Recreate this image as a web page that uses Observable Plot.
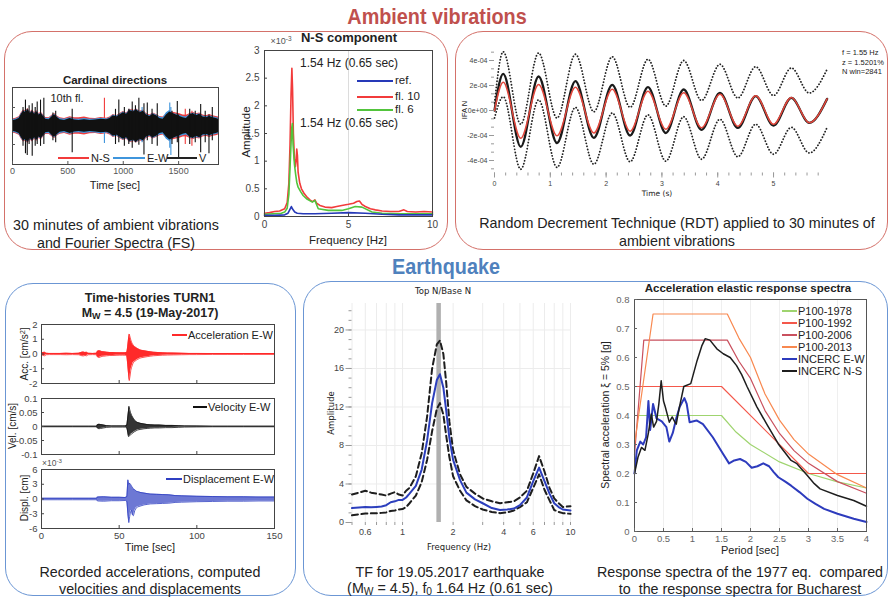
<!DOCTYPE html>
<html><head><meta charset="utf-8">
<script src="https://cdn.jsdelivr.net/npm/d3@7"></script>
<script src="https://cdn.jsdelivr.net/npm/@observablehq/plot@0.6"></script>
<style>
body{margin:0;background:#fff;}
#root{position:relative;width:892px;height:599px;overflow:hidden;font-family:"Liberation Sans",Arial,sans-serif;color:#222;}
.box{position:absolute;box-sizing:border-box;border-radius:28px;}
.t{position:absolute;white-space:nowrap;transform:translate(-50%,-50%);line-height:1;}
.t sub{font-size:0.72em;vertical-align:-0.2em;line-height:0;}
.t sup{font-size:0.72em;vertical-align:0.45em;line-height:0;}
</style></head><body><div id="root"></div><script>
// ---------- Cardinal directions (ambient record, 10th floor) ----------
const cdTime = [0,30,60,80,100,120,140,160,180,200,
  220,240,260,280,300,330,360,380,400,430,
  470,520,560,600,650,700,750,800,850,880,
  910,940,970,1000,1030,1060,1090,1120,1150,1180,
  1210,1240,1270,1300,1330,1360,1390,1420,1450,1480,
  1510,1540,1570,1600,1630,1660,1690,1720,1750,1780,
  1810,1840,1860];
const cdAmpV = [0.14,0.16,0.2,0.32,0.4,0.36,0.44,0.34,0.4,0.32,
  0.38,0.3,0.34,0.26,0.18,0.17,0.26,0.3,0.24,0.17,
  0.15,0.2,0.16,0.15,0.17,0.15,0.16,0.18,0.17,0.2,
  0.28,0.24,0.3,0.36,0.32,0.42,0.38,0.44,0.36,0.4,
  0.3,0.26,0.32,0.28,0.2,0.18,0.3,0.38,0.34,0.3,
  0.26,0.22,0.2,0.3,0.34,0.28,0.32,0.24,0.22,0.26,
  0.22,0.2,0.18];
const cdAmpNS = [0.19,0.21,0.25,0.36,0.43,0.4,0.47,0.38,0.43,0.36,
  0.41,0.34,0.37,0.3,0.23,0.22,0.3,0.34,0.28,0.22,
  0.2,0.25,0.22,0.22,0.24,0.21,0.2,0.23,0.21,0.24,
  0.31,0.28,0.34,0.39,0.35,0.45,0.41,0.46,0.4,0.43,
  0.34,0.3,0.35,0.31,0.26,0.24,0.33,0.41,0.37,0.35,
  0.33,0.3,0.29,0.33,0.37,0.33,0.35,0.3,0.28,0.31,
  0.28,0.26,0.24];
const cdAmpEW = [0.17,0.19,0.23,0.34,0.41,0.38,0.45,0.36,0.41,0.34,
  0.39,0.32,0.35,0.28,0.21,0.2,0.28,0.32,0.26,0.2,
  0.18,0.22,0.19,0.18,0.2,0.18,0.19,0.21,0.19,0.22,
  0.3,0.27,0.32,0.38,0.34,0.44,0.4,0.45,0.38,0.42,
  0.32,0.28,0.34,0.3,0.24,0.22,0.36,0.42,0.34,0.32,
  0.29,0.26,0.24,0.31,0.35,0.31,0.33,0.27,0.25,0.28,
  0.25,0.23,0.21];
const spikeTimeV = [95,117,133,150,178,205,223,253,283,365,390,539,930,960,1010,1050,1081,1110,1141,1187,1217,1260,1307,1440,1488,1500,1600,1650,1699,1740,1774,1804];
const spikeHiV = [0.5,0.7,0.45,0.55,0.6,0.5,0.65,0.7,0.75,0.35,0.4,0.45,0.45,0.7,0.5,0.45,0.65,0.55,0.75,0.6,0.62,0.45,0.6,0.4,0.66,0.3,0.45,0.4,0.58,0.4,0.3,0.5];
const spikeLoV = [-0.55,-0.75,-0.8,-0.5,-0.82,-0.55,-0.5,-0.55,-0.5,-0.4,-0.45,-0.72,-0.5,-0.45,-0.55,-0.5,-0.6,-0.45,-0.52,-0.78,-0.4,-0.5,-0.55,-0.5,-0.45,-0.88,-0.5,-0.45,-0.72,-0.45,-0.75,-0.4];
const spikeTimeNS = [830,1080,1560,1620];
const spikeHiNS = [0.75,0.45,0.45,0.4];
const spikeLoNS = [-0.2,-0.45,-0.5,-0.55];
const spikeTimeEW = [830,1420,1430,1170];
const spikeHiEW = [0.2,0.62,0.5,0.5];
const spikeLoEW = [-0.47,-0.6,-0.8,-0.45];
const cdTicks = [0,500,1000,1500];

// ---------- N-S component Fourier spectra (x1e-3) ----------
const fl10Freq = [0,0.3,0.6,0.9,1.2,1.35,1.45,1.52,1.58,1.63,1.67,1.72,1.78,1.84,1.88,1.92,1.96,2.0,2.1,2.2,2.35,2.5,2.7,2.85,3.0,3.1,3.3,3.6,4.0,4.3,4.6,5.0,5.3,5.5,5.65,5.8,6.0,6.3,6.6,7.0,7.5,8.0,8.3,8.5,9.0,9.5,10];
const fl10Amp = [0.06,0.07,0.09,0.1,0.14,0.25,0.6,1.3,2.2,2.68,2.3,1.5,1.05,0.9,1.0,1.22,1.1,0.8,0.6,0.5,0.42,0.36,0.3,0.27,0.3,0.24,0.2,0.17,0.16,0.18,0.2,0.22,0.24,0.27,0.28,0.22,0.18,0.14,0.12,0.1,0.09,0.09,0.12,0.09,0.08,0.09,0.08];
const fl6Freq = [0,0.5,1.0,1.2,1.35,1.45,1.55,1.62,1.66,1.7,1.78,1.85,1.92,2.0,2.15,2.3,2.5,2.85,3.0,3.2,3.8,4.6,5.0,5.4,5.8,6.4,7.0,8.0,9.0,10];
const fl6Amp = [0.04,0.05,0.06,0.08,0.15,0.4,1.1,1.6,1.68,1.3,0.95,0.77,0.62,0.53,0.45,0.38,0.32,0.26,0.29,0.14,0.11,0.11,0.14,0.18,0.17,0.08,0.06,0.05,0.05,0.05];
const refFreq = [0,0.6,1.2,1.4,1.5,1.6,1.68,1.8,1.95,2.3,3.0,4.0,5.0,6.0,7.0,8.0,9.0,10];
const refAmp = [0.02,0.02,0.03,0.06,0.12,0.18,0.13,0.08,0.06,0.05,0.05,0.06,0.07,0.06,0.04,0.03,0.03,0.03];

// ---------- Random decrement signature (x1e-4) ----------
const rdtTime = [0,0.156,0.47,0.79,1.12,1.45,1.78,2.11,2.43,2.75,3.07,3.39,3.71,4.04,4.36,4.68,5.0,5.32,5.64,5.96];
const rdtMean = [0,2.93,-2.9,2.72,-2.6,2.35,-2.19,2.05,-2.0,1.87,-1.8,1.68,-1.55,1.41,-1.39,1.15,-1.2,1.01,-0.99,0.93];
const rdtFit = [0,2.27,-2.22,2.08,-2.02,1.87,-1.8,1.71,-1.65,1.55,-1.5,1.42,-1.38,1.3,-1.25,1.18,-1.1,1.05,-0.98,0.93];
const rdtUpper = [0.6,4.7,-1.1,4.6,-0.6,4.5,-0.1,4.3,0.25,4.1,0.35,4.0,0.8,3.7,1.0,3.5,1.2,3.4,1.4,3.3];
const rdtLower = [-0.6,1.1,-4.7,0.85,-4.55,0.25,-4.3,-0.2,-4.1,-0.35,-4.05,-0.5,-3.9,-0.7,-3.7,-1.1,-3.5,-1.35,-3.4,-1.35];

// ---------- Time histories TURN1 (envelopes) ----------
const accTime = [0,1,2,3,5,8,12,16,20,24,26,27,28,29,30,33,35.5,36,37,38,39,40,42,44,46,48,50,52,54,55,55.5,56,56.5,57,57.5,58,58.5,59,60,61,62,63,64,66,68,70,72,75,78,81,85,90,95,100,110,120,130,140,150];
const accHi = [0.04,0.1,0.12,0.05,0.04,0.04,0.04,0.05,0.04,0.05,0.12,0.13,0.1,0.12,0.05,0.04,0.05,0.18,0.22,0.2,0.16,0.15,0.12,0.1,0.1,0.09,0.08,0.08,0.08,0.12,0.5,1.0,1.35,1.15,0.95,0.8,0.7,0.6,0.5,0.42,0.36,0.3,0.26,0.22,0.18,0.15,0.12,0.1,0.08,0.07,0.06,0.05,0.04,0.04,0.03,0.03,0.03,0.03,0.03];
const accLo = [-0.04,-0.1,-0.12,-0.05,-0.04,-0.04,-0.04,-0.05,-0.04,-0.05,-0.12,-0.13,-0.1,-0.12,-0.05,-0.04,-0.05,-0.2,-0.24,-0.2,-0.16,-0.15,-0.12,-0.1,-0.1,-0.09,-0.08,-0.08,-0.08,-0.15,-0.7,-1.3,-1.8,-1.5,-1.1,-0.9,-0.75,-0.6,-0.5,-0.42,-0.36,-0.3,-0.26,-0.22,-0.18,-0.15,-0.12,-0.1,-0.08,-0.07,-0.06,-0.05,-0.04,-0.04,-0.03,-0.03,-0.03,-0.03,-0.03];
const velTime = [0,10,20,30,35.5,36,37,38,39,40,42,45,48,52,54,55,55.5,56,56.3,56.8,57.3,58,59,60,61,62,64,66,68,70,73,76,80,84,88,92,100,110,120,130,140,150];
const velHi = [0.001,0.001,0.001,0.001,0.001,0.006,0.008,0.007,0.006,0.005,0.003,0.002,0.002,0.002,0.002,0.005,0.03,0.055,0.072,0.06,0.05,0.04,0.03,0.022,0.017,0.014,0.011,0.009,0.007,0.006,0.005,0.005,0.004,0.004,0.003,0.002,0.0015,0.001,0.001,0.001,0.001,0.001];
const velLo = [-0.001,-0.001,-0.001,-0.001,-0.001,-0.006,-0.008,-0.007,-0.006,-0.005,-0.003,-0.002,-0.002,-0.002,-0.002,-0.005,-0.02,-0.036,-0.034,-0.033,-0.03,-0.026,-0.022,-0.018,-0.015,-0.012,-0.01,-0.008,-0.007,-0.006,-0.005,-0.005,-0.004,-0.004,-0.003,-0.002,-0.0015,-0.001,-0.001,-0.001,-0.001,-0.001];
const dispTime = [0,10,20,30,35.5,36,40,45,50,54,55,55.6,56.2,56.8,57.3,58,58.5,59.2,60,61,62,64,66,68,70,74,78,82,86,90,95,100,110,120,130,140,150];
const dispHi = [0.15,0.15,0.15,0.15,0.15,0.4,0.45,0.35,0.35,0.3,0.5,3.9,3.0,3.2,3.0,2.6,2.4,2.0,1.9,1.6,1.5,1.3,1.2,1.1,1.0,0.95,0.9,0.85,0.7,0.65,0.6,0.55,0.5,0.45,0.45,0.4,0.4];
const dispLo = [-0.15,-0.15,-0.15,-0.15,-0.15,-0.4,-0.45,-0.35,-0.35,-0.3,-0.5,-3.0,-4.8,-3.5,-2.6,-2.3,-3.2,-3.4,-2.4,-1.8,-1.6,-1.4,-1.2,-1.1,-1.0,-0.95,-0.9,-0.85,-0.7,-0.65,-0.6,-0.55,-0.5,-0.45,-0.45,-0.4,-0.4];

// ---------- Transfer function Top N / Base N ----------
const tfFreq = [0.5,0.55,0.6,0.65,0.7,0.75,0.8,0.85,0.9,0.95,1.0,1.05,1.1,1.2,1.3,1.4,1.5,1.6,1.67,1.75,1.82,1.9,2.0,2.2,2.4,2.7,3.0,3.4,3.8,4.2,4.6,5.0,5.5,6.0,6.5,7.0,7.5,8.0,8.5,9.0,10];
const tfMean = [1.5,1.55,1.6,1.58,1.62,1.66,1.8,2.1,2.2,2.35,2.35,2.6,3.0,3.8,5.5,8.5,12.4,14.8,15.4,14.0,11.6,8.8,6.5,4.4,3.1,2.4,2.0,1.5,1.3,1.35,1.45,1.8,2.6,4.3,5.7,4.3,3.0,2.0,1.6,1.35,1.25];
const tfUpper = [2.9,3.1,3.3,3.1,3.0,2.9,2.8,3.0,3.15,2.9,2.8,3.3,3.6,4.8,7.2,11,16,18.5,18.9,17.5,14.5,10.5,7.5,5.0,3.7,3.0,2.5,2.2,2.0,2.1,2.2,2.6,3.3,5.1,6.9,5.3,3.6,2.5,2.0,1.6,1.7];
const tfLower = [0.75,0.85,0.93,0.95,0.97,1.0,1.05,1.2,1.25,1.35,1.4,1.6,2.0,2.8,4.2,6.5,9.5,11.8,12.4,11.2,9.0,6.8,4.8,3.3,2.3,1.7,1.35,1.1,0.97,1.05,1.25,1.6,2.1,3.6,5.0,3.4,2.3,1.3,1.1,0.97,0.9];
const tfPeakFreq = [1.64];

// ---------- Acceleration elastic response spectra ----------
const p1978T = [0,1.5,1.75,2.0,2.5,3.0,3.5,4.0];
const p1978SA = [0.4,0.4,0.343,0.3,0.24,0.2,0.171,0.15];
const p1992T = [0,1.5,3.0,4.0];
const p1992SA = [0.5,0.5,0.2,0.2];
const p2006T = [0,0.16,1.6,1.8,2.0,2.25,2.5,2.75,3.0,3.5,4.0];
const p2006SA = [0.264,0.66,0.66,0.587,0.528,0.417,0.338,0.279,0.235,0.172,0.132];
const p2013T = [0,0.32,1.6,1.8,2.0,2.25,2.5,2.75,3.0,3.5,4.0];
const p2013SA = [0.3,0.75,0.75,0.667,0.6,0.474,0.384,0.317,0.267,0.196,0.15];
const ewT = [0,0.04,0.1,0.15,0.2,0.24,0.27,0.32,0.38,0.47,0.55,0.6,0.66,0.72,0.78,0.86,0.9,0.95,1.07,1.18,1.35,1.52,1.63,1.72,1.82,1.92,2.02,2.12,2.22,2.32,2.4,2.48,2.6,2.7,2.85,2.98,3.12,3.27,3.5,3.78,4.0];
const ewSA = [0.2,0.28,0.31,0.3,0.325,0.45,0.35,0.44,0.39,0.38,0.36,0.31,0.34,0.39,0.43,0.46,0.44,0.377,0.383,0.37,0.325,0.27,0.235,0.245,0.25,0.24,0.22,0.225,0.235,0.225,0.205,0.187,0.172,0.158,0.135,0.113,0.095,0.078,0.061,0.044,0.033];
const nsT = [0,0.06,0.12,0.18,0.24,0.29,0.33,0.38,0.42,0.46,0.5,0.53,0.6,0.65,0.69,0.72,0.76,0.85,0.97,1.08,1.16,1.22,1.3,1.42,1.53,1.65,1.76,1.85,1.94,2.11,2.28,2.48,2.7,2.8,2.98,3.1,3.2,3.5,3.78,4.0];
const nsSA = [0.2,0.256,0.29,0.28,0.34,0.405,0.36,0.38,0.44,0.52,0.45,0.43,0.377,0.395,0.38,0.37,0.415,0.5,0.51,0.59,0.64,0.665,0.66,0.63,0.613,0.6,0.572,0.54,0.5,0.43,0.37,0.302,0.245,0.234,0.193,0.165,0.147,0.124,0.107,0.087];

// ================= rendering =================
const root = document.getElementById("root");
const FONT = '"Liberation Sans", Arial, Helvetica, sans-serif';
const SMALLFONT = '"DejaVu Sans", Verdana, sans-serif';
const C = {red:"#c0504d", blue:"#4f81bd", ns:"#f23b3b", ew:"#3f95dc", v:"#111",
  acc:"#ff2a2a", disp:"#2f3fc2", tfBlue:"#2c3fbd", p78:"#9fd46f", p92:"#f4584b", p06:"#c9505e", p13:"#f8884f", ewRS:"#2d3bbd"};

function txt(html, x, y, o = {}) {
  const d = document.createElement("div");
  d.className = "t";
  d.innerHTML = html;
  d.style.left = x + "px"; d.style.top = y + "px";
  d.style.fontSize = (o.size || 11) + "px";
  d.style.fontFamily = o.font || FONT;
  if (o.bold) d.style.fontWeight = "bold";
  if (o.color) d.style.color = o.color;
  if (o.pre) d.style.whiteSpace = "pre";
  if (o.anchor === "start") d.style.transform = "translate(0,-50%)";
  if (o.rotate) d.style.transform = "translate(-50%,-50%) rotate(-90deg)";
  if (o.sx) d.style.transform = `translate(-50%,-50%) scaleX(${o.sx})`;
  root.appendChild(d);
  return d;
}
function seg(x1, x2, y, color, w = 1.3) {
  const d = document.createElement("div");
  Object.assign(d.style, {position:"absolute", left:x1+"px", top:(y - w/2)+"px", width:(x2-x1)+"px", height:w+"px", background:color});
  root.appendChild(d);
}
function box(l, t, w, h, color) {
  const d = document.createElement("div");
  d.className = "box";
  Object.assign(d.style, {left:l+"px", top:t+"px", width:w+"px", height:h+"px", border:"1.6px solid "+color});
  root.appendChild(d);
}
function put(svg, l, t) {
  svg.style.position = "absolute"; svg.style.left = l + "px"; svg.style.top = t + "px";
  root.appendChild(svg);
}
const st = (size = 9, font = FONT, color = "#333") => ({fontFamily: font, fontSize: size + "px", color, background: "transparent", overflow: "visible"});
const noText = () => "";
const num = d => String(d);

// boxes and section titles
box(4, 31, 444, 219, "#d4716a");
box(455, 31, 433, 219, "#d4716a");
box(5, 283, 291, 313, "#6b96d4");
box(303, 281, 585, 315, "#6b96d4");
txt("Ambient vibrations", 437, 17, {size: 22, bold: true, sx: 0.9, color: C.red});
txt("Earthquake", 446, 267, {size: 22, bold: true, sx: 0.9, color: C.blue});

// ---- Cardinal directions ----
const cd = cdTime.map((t, i) => ({t, v: cdAmpV[i], ns: cdAmpNS[i], ew: cdAmpEW[i]}));
const spk = (T, H, L) => T.map((t, i) => ({t, hi: H[i], lo: L[i]}));
put(Plot.plot({
  width: 222, height: 114, marginLeft: 12, marginRight: 4, marginTop: 7, marginBottom: 30,
  x: {domain: [0, 1860], label: null}, y: {domain: [-1.04, 1.04], label: null},
  style: st(9, FONT, "#555"),
  marks: [
    Plot.areaY(cd, {x: "t", y1: d => -d.ns, y2: "ns", fill: C.ns}),
    Plot.ruleX(spk(spikeTimeNS, spikeHiNS, spikeLoNS), {x: "t", y1: "lo", y2: "hi", stroke: C.ns, strokeWidth: 1.1}),
    Plot.areaY(cd, {x: "t", y1: d => -d.ew, y2: "ew", fill: C.ew}),
    Plot.ruleX(spk(spikeTimeEW, spikeHiEW, spikeLoEW), {x: "t", y1: "lo", y2: "hi", stroke: C.ew, strokeWidth: 1.1}),
    Plot.areaY(cd, {x: "t", y1: d => -d.v, y2: "v", fill: C.v}),
    Plot.ruleX(spk(spikeTimeV, spikeHiV, spikeLoV), {x: "t", y1: "lo", y2: "hi", stroke: C.v, strokeWidth: 1.1}),
    Plot.frame({stroke: "#444"}),
    Plot.axisX({ticks: cdTicks, tickSize: -3, tickFormat: noText, label: null}),
    Plot.axisX({ticks: cdTicks, tickSize: 0, tickPadding: 3, tickFormat: num, label: null}),
    Plot.axisY({ticks: [-0.5, 0.5], tickSize: -3, tickFormat: noText, label: null})
  ]
}), 0, 80);
txt("Cardinal directions", 115, 81, {size: 11.5, bold: true});
txt("10th fl.", 67, 98, {size: 11});
txt("Time [sec]", 115, 185, {size: 11});
seg(58, 89, 158, C.ns, 1.2); txt("N-S", 91, 158, {size: 11, anchor: "start"});
seg(113, 145, 158, C.ew, 1.2); txt("E-W", 147, 158, {size: 11, anchor: "start"});
seg(167, 197, 158, "#222", 1.2); txt("V", 199, 158, {size: 11, anchor: "start"});
txt("30 minutes of ambient vibrations", 116, 225, {size: 14.3});
txt("and Fourier Spectra (FS)", 116, 243, {size: 14.3});

// ---- N-S component spectra ----
const mk = (F, A) => F.map((f, i) => ({f, a: A[i]}));
put(Plot.plot({
  width: 200, height: 210, marginLeft: 24, marginRight: 8, marginTop: 20, marginBottom: 24,
  x: {domain: [0, 10], label: null}, y: {domain: [0, 3], label: null},
  style: st(10, FONT, "#444"),
  marks: [
    Plot.ruleX([5], {stroke: "#dcdcdc"}),
    Plot.line(mk(fl10Freq, fl10Amp), {x: "f", y: "a", stroke: C.ns, strokeWidth: 1.6}),
    Plot.line(mk(fl6Freq, fl6Amp), {x: "f", y: "a", stroke: "#52c43c", strokeWidth: 1.6}),
    Plot.line(mk(refFreq, refAmp), {x: "f", y: "a", stroke: "#2639b8", strokeWidth: 1.6}),
    Plot.frame({stroke: "#444"}),
    Plot.axisX({ticks: [0, 5, 10], tickSize: -3, tickFormat: noText, label: null}),
    Plot.axisX({ticks: [0, 5, 10], tickSize: 0, tickPadding: 4, tickFormat: num, label: null}),
    Plot.axisY({ticks: [0, 0.5, 1, 1.5, 2, 2.5, 3], tickSize: -3, tickFormat: noText, label: null}),
    Plot.axisY({ticks: [0, 0.5, 1, 1.5, 2, 2.5, 3], tickSize: 0, tickPadding: 5, tickFormat: num, label: null})
  ]
}), 240, 30);
txt("N-S component", 349, 37, {size: 13, bold: true});
txt("×10<sup>-3</sup>", 281, 41, {size: 9, color: "#555"});
txt("Amplitude", 247, 132, {size: 11.5, rotate: true});
txt("Frequency [Hz]", 348, 241, {size: 11.5});
txt("1.54 Hz (0.65 sec)", 300, 63, {size: 12, anchor: "start"});
txt("1.54 Hz (0.65 sec)", 300, 123, {size: 12, anchor: "start"});
seg(357, 393, 81, "#2639b8", 1.6); txt("ref.", 395, 81, {size: 11.5, anchor: "start"});
seg(357, 393, 97, C.ns, 1.6); txt("fl. 10", 395, 97, {size: 11.5, anchor: "start"});
seg(357, 393, 110, "#52c43c", 1.6); txt("fl. 6", 395, 110, {size: 11.5, anchor: "start"});

// ---- RDT ----
const rdt = rdtTime.map((t, i) => ({t, mean: rdtMean[i], fit: rdtFit[i], up: rdtUpper[i], lo: rdtLower[i]}));
const e4 = d => d === 0 ? "0e+00" : (d < 0 ? "-" : "") + Math.abs(d) + "e-04";
put(Plot.plot({
  width: 420, height: 165, marginLeft: 34, marginRight: 40, marginTop: 9.5, marginBottom: 30.5,
  x: {domain: [0, 6.2], label: null}, y: {domain: [-5, 5], label: null},
  style: st(7, FONT, "#444"),
  marks: [
    Plot.line(rdt, {x: "t", y: "up", curve: "monotone-x", stroke: "#222", strokeWidth: 1.8, strokeDasharray: "0.1,3", strokeLinecap: "round"}),
    Plot.line(rdt, {x: "t", y: "lo", curve: "monotone-x", stroke: "#222", strokeWidth: 1.8, strokeDasharray: "0.1,3", strokeLinecap: "round"}),
    Plot.line(rdt, {x: "t", y: "mean", curve: "monotone-x", stroke: "#1a1a1a", strokeWidth: 2.3}),
    Plot.line(rdt, {x: "t", y: "fit", curve: "monotone-x", stroke: "#e2473c", strokeWidth: 1.5}),
    Plot.axisX({ticks: d3.range(0, 5.85, 0.2), tickSize: 3, tickFormat: noText, label: null, stroke: "#999"}),
    Plot.axisX({ticks: [0, 1, 2, 3, 4, 5], tickSize: 5, tickPadding: 3, tickFormat: num, label: null, stroke: "#999"}),
    Plot.axisY({ticks: d3.range(-4.667, 4.7, 0.6667), tickSize: 3, tickFormat: noText, label: null, stroke: "#999"}),
    Plot.axisY({ticks: [-4, -2, 0, 2, 4], tickSize: 5, tickPadding: 2, tickFormat: e4, label: null, stroke: "#999"})
  ]
}), 460, 38);
txt("IFA N", 465, 110, {size: 7.5, rotate: true});
txt("Time (s)", 657, 194, {size: 7.5, font: SMALLFONT});
txt("f = 1.55 Hz", 842, 53, {size: 7.5, anchor: "start"});
txt("z = 1.5201%", 842, 63, {size: 7.5, anchor: "start"});
txt("N win=2841", 842, 72, {size: 7.5, anchor: "start"});
txt("Random Decrement Technique (RDT) applied to 30 minutes of", 677, 223, {size: 14.3});
txt("ambient vibrations", 677, 241, {size: 14.3});

// ---- Time histories ----
function th(T, H, L, o) {
  const data = T.map((t, i) => ({t, hi: H[i], lo: L[i]}));
  return Plot.plot({
    width: 290, height: o.h, marginLeft: 41, marginRight: 16, marginTop: 6, marginBottom: o.mb,
    x: {domain: [0, 150], label: null}, y: {domain: o.dom, label: null},
    style: st(9.5, FONT, "#444"),
    marks: [
      Plot.areaY(data, {x: "t", y1: "lo", y2: "hi", fill: o.color, fillOpacity: o.op || 1}),
      Plot.line(data, {x: "t", y: "hi", stroke: o.color, strokeWidth: 0.8}),
      Plot.line(data, {x: "t", y: "lo", stroke: o.color, strokeWidth: 0.8}),
      Plot.frame({stroke: "#444"}),
      Plot.axisX({ticks: [0, 50, 100, 150], tickSize: -3, tickFormat: noText, label: null}),
      o.xlab ? Plot.axisX({ticks: [0, 50, 100, 150], tickSize: 0, tickPadding: 4, tickFormat: num, label: null}) : null,
      Plot.axisY({ticks: o.ticks, tickSize: -3, tickFormat: noText, label: null}),
      Plot.axisY({ticks: o.ticks, tickSize: 0, tickPadding: 4, tickFormat: num, label: null})
    ]
  });
}
put(th(accTime, accHi, accLo, {h: 71, mb: 6, dom: [-2, 2], ticks: [-2, -1, 0, 1, 2], color: C.acc}), 0, 318);
put(th(velTime, velHi, velLo, {h: 68, mb: 6, dom: [-0.1, 0.1], ticks: [-0.1, -0.05, 0, 0.05, 0.1], color: "#111", op: 0.85}), 0, 392);
put(th(dispTime, dispHi, dispLo, {h: 95, mb: 30, dom: [-6, 6], ticks: [-6, -3, 0, 3, 6], color: C.disp, xlab: true, op: 0.7}), 0, 463);
txt("Time-histories TURN1", 150, 298, {size: 12.5, bold: true});
txt("M<sub>W</sub> = 4.5 (19-May-2017)", 150, 313, {size: 12.5, bold: true});
txt("Acc. [cm/s<sup>2</sup>]", 25, 354, {size: 10, rotate: true});
txt("Vel. [cm/s]", 13, 426, {size: 10, rotate: true});
txt("Displ. [cm]", 25, 498, {size: 10, rotate: true});
txt("×10<sup>-3</sup>", 52, 463, {size: 8.5, color: "#555"});
seg(172, 187, 335, C.acc, 1.2); txt("Acceleration E-W", 188, 335, {size: 11, anchor: "start"});
seg(193, 207, 407, "#111", 1.2); txt("Velocity E-W", 208, 407, {size: 11, anchor: "start"});
seg(166, 182, 479, C.disp, 1.2); txt("Displacement E-W", 183, 479, {size: 11, anchor: "start"});
txt("Time [sec]", 150, 547, {size: 11});
txt("Recorded accelerations, computed", 150, 572, {size: 14.3});
txt("velocities and displacements", 150, 589, {size: 14.3});

// ---- Transfer function ----
const tf = tfFreq.map((f, i) => ({f, mean: tfMean[i], up: tfUpper[i], lo: tfLower[i]}));
const tfMinor = [0.5, 0.6, 0.7, 0.8, 0.9, 1, 2, 3, 4, 5, 6, 7, 8, 9, 10];
put(Plot.plot({
  width: 290, height: 257, marginLeft: 51.5, marginRight: 20, marginTop: 8, marginBottom: 30,
  x: {type: "log", domain: [0.5, 10], label: null}, y: {domain: [0, 22.75], label: null},
  style: st(9, FONT, "#444"),
  marks: [
    Plot.gridX(tfMinor, {stroke: "#ececec", strokeOpacity: 1}),
    Plot.gridY([4, 8, 12, 16, 20], {stroke: "#ececec", strokeOpacity: 1}),
    Plot.ruleX(tfPeakFreq, {stroke: "#b0b0b0", strokeWidth: 4.5}),
    Plot.line(tf, {x: "f", y: "up", stroke: "#1e1e1e", strokeWidth: 2, strokeDasharray: "6,3.5"}),
    Plot.line(tf, {x: "f", y: "lo", stroke: "#1e1e1e", strokeWidth: 2, strokeDasharray: "6,3.5"}),
    Plot.line(tf, {x: "f", y: "mean", stroke: C.tfBlue, strokeWidth: 2}),
    Plot.axisX({ticks: tfMinor, tickSize: 3, tickFormat: noText, label: null, stroke: "#999"}),
    Plot.axisX({ticks: [0.6, 0.8, 1, 2, 4, 6, 8, 10], tickSize: 0, tickPadding: 6, tickFormat: num, label: null}),
    Plot.axisY({ticks: d3.range(0, 23, 1), tickSize: 3, tickFormat: noText, label: null, stroke: "#999"}),
    Plot.axisY({ticks: [0, 4, 8, 12, 16, 20], tickSize: 6, tickPadding: 2, tickFormat: num, label: null, stroke: "#999"})
  ]
}), 300, 295);
txt("Top N/Base N", 443, 291, {size: 8.5, font: SMALLFONT});
txt("Amplitude", 331, 413, {size: 8.5, font: SMALLFONT, rotate: true});
txt("Frequency (Hz)", 459, 547, {size: 8.5, font: SMALLFONT});
txt("TF for 19.05.2017 earthquake", 450, 572, {size: 14.3});
txt("(M<sub>W</sub> = 4.5), f<sub>0</sub> 1.64 Hz (0.61 sec)", 450, 588, {size: 14.3});

// ---- Response spectra ----
const rs = (T, S) => T.map((t, i) => ({t, s: S[i]}));
const rsX = [0, 0.5, 1, 1.5, 2, 2.5, 3, 3.5, 4];
const rsY = [0, 0.1, 0.2, 0.3, 0.4, 0.5, 0.6, 0.7, 0.8];
put(Plot.plot({
  width: 290, height: 269, marginLeft: 44, marginRight: 14, marginTop: 7, marginBottom: 30,
  x: {domain: [0, 4], label: null}, y: {domain: [0, 0.8], label: null},
  style: st(9.5, FONT, "#666"),
  marks: [
    Plot.gridX(rsX, {stroke: "#efefef", strokeOpacity: 1}),
    Plot.line(rs(p1978T, p1978SA), {x: "t", y: "s", stroke: C.p78, strokeWidth: 1.2}),
    Plot.line(rs(p1992T, p1992SA), {x: "t", y: "s", stroke: C.p92, strokeWidth: 1.2}),
    Plot.line(rs(p2006T, p2006SA), {x: "t", y: "s", stroke: C.p06, strokeWidth: 1.2}),
    Plot.line(rs(p2013T, p2013SA), {x: "t", y: "s", stroke: C.p13, strokeWidth: 1.2}),
    Plot.line(rs(ewT, ewSA), {x: "t", y: "s", stroke: C.ewRS, strokeWidth: 2}),
    Plot.line(rs(nsT, nsSA), {x: "t", y: "s", stroke: "#1e1e1e", strokeWidth: 1.5}),
    Plot.frame({stroke: "#555"}),
    Plot.axisX({ticks: rsX, tickSize: -3, tickFormat: noText, label: null}),
    Plot.axisX({ticks: rsX, tickSize: 0, tickPadding: 4, tickFormat: num, label: null}),
    Plot.axisY({ticks: rsY, tickSize: -3, tickFormat: noText, label: null}),
    Plot.axisY({ticks: rsY, tickSize: 0, tickPadding: 5, tickFormat: num, label: null})
  ]
}), 590, 292);
txt("Acceleration elastic response spectra", 748, 289, {size: 11.5, bold: true});
txt("Spectral acceleration ξ = 5% [g]", 605, 415, {size: 10.5, rotate: true});
txt("Period [sec]", 750, 550, {size: 11});
const rsLeg = [["P100-1978", C.p78, 1.2], ["P100-1992", C.p92, 1.2], ["P100-2006", C.p06, 1.2], ["P100-2013", C.p13, 1.2], ["INCERC E-W", C.ewRS, 2], ["INCERC N-S", "#1e1e1e", 1.5]];
const rsLegY = [311, 323, 335, 347, 359, 371];
rsLeg.forEach(([name, col, w], i) => { seg(782, 797, rsLegY[i], col, w); txt(name, 798, rsLegY[i], {size: 11, anchor: "start"}); });
txt("Response spectra of the 1977 eq.  compared", 740, 572, {size: 14.3, pre: true});
txt("to  the response spectra for Bucharest", 740, 589, {size: 14.3, pre: true});
</script></body></html>
